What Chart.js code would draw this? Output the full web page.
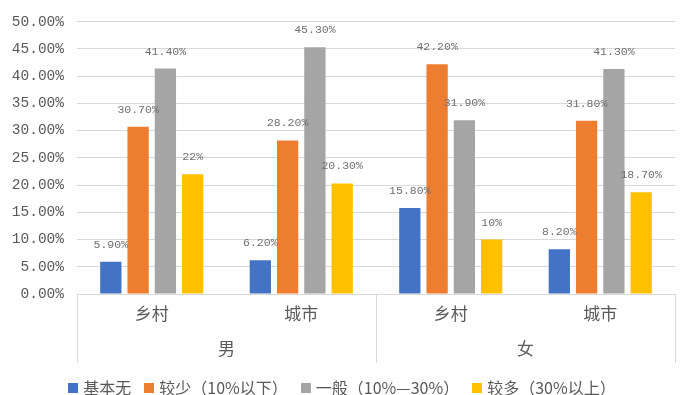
<!DOCTYPE html>
<html>
<head>
  <meta charset="utf-8">
  <title>男女 乡村/城市 对比</title>
  <script src="https://cdn.jsdelivr.net/npm/chart.js@4.4.1/dist/chart.umd.min.js"></script>
  <style>
    html, body { margin: 0; padding: 0; background: #fff; }
    .chart-box { width: 693px; height: 395px; }
  </style>
</head>
<body>
  <div class="chart-box"><canvas id="chart"></canvas></div>

  <script>
    // data
    const categories = ['乡村', '城市', '乡村', '城市'];
    const groups = ['男', '女'];
    const seriesNames = ['基本无', '较少（10%以下）', '一般（10%—30%）', '较多（30%以上）'];
    const none = [5.9, 6.2, 15.8, 8.2];
    const less = [30.7, 28.2, 42.2, 31.8];
    const normal = [41.4, 45.3, 31.9, 41.3];
    const more = [22, 20.3, 10, 18.7];
    const colors = ['#4472C4', '#ED7D31', '#A5A5A5', '#FFC000'];

    const CJK = '"Noto Sans CJK SC", "Noto Sans", sans-serif';
    const MONO = '"Liberation Mono", "DejaVu Sans Mono", monospace';

    function fmt(v) {
      return Number.isInteger(v) ? v + '%' : v.toFixed(2) + '%';
    }

    // value labels above each bar
    const valueLabels = {
      id: 'valueLabels',
      afterDatasetsDraw(chart) {
        const ctx = chart.ctx;
        ctx.save();
        ctx.font = '11.5px ' + MONO;
        ctx.fillStyle = '#6f6f6f';
        ctx.textAlign = 'center';
        ctx.textBaseline = 'middle';
        chart.data.datasets.forEach((ds, i) => {
          chart.getDatasetMeta(i).data.forEach((bar, j) => {
            ctx.fillText(fmt(ds.data[j]), bar.x, bar.y - 17);
          });
        });
        ctx.restore();
      }
    };

    // two-level category axis: box lines + 男/女 row
    const groupAxis = {
      id: 'groupAxis',
      afterDraw(chart) {
        const ctx = chart.ctx;
        const x = chart.scales.x;
        const area = chart.chartArea;
        const mid = (x.getPixelForValue(1) + x.getPixelForValue(2)) / 2;
        const top = area.bottom;
        const bottom = area.bottom + 69;
        ctx.save();
        ctx.strokeStyle = '#d9d9d9';
        ctx.lineWidth = 1;
        ctx.beginPath();
        [area.left, mid, area.right].forEach(px => {
          const p = Math.round(px) + 0.5;
          ctx.moveTo(p, top);
          ctx.lineTo(p, bottom);
        });
        ctx.stroke();
        ctx.font = '17px ' + CJK;
        ctx.fillStyle = '#595959';
        ctx.textAlign = 'center';
        ctx.textBaseline = 'middle';
        ctx.fillText(groups[0], (area.left + mid) / 2, area.bottom + 55);
        ctx.fillText(groups[1], (mid + area.right) / 2, area.bottom + 55);
        ctx.restore();
      }
    };

    // legend row at the bottom, built from the datasets
    const bottomLegend = {
      id: 'bottomLegend',
      afterDraw(chart) {
        const ctx = chart.ctx;
        const sets = chart.data.datasets;
        const box = 10, gapText = 5, gapItem = 13, y = 388;
        ctx.save();
        ctx.font = '16px ' + CJK;
        const widths = sets.map(ds => ctx.measureText(ds.label).width);
        const total = widths.reduce((a, w) => a + box + gapText + w, 0) + gapItem * (sets.length - 1);
        let cx = 342 - total / 2;
        ctx.textBaseline = 'middle';
        ctx.textAlign = 'left';
        sets.forEach((ds, i) => {
          ctx.fillStyle = ds.backgroundColor;
          ctx.fillRect(Math.round(cx), y - box / 2, box, box);
          ctx.fillStyle = '#595959';
          ctx.fillText(ds.label, cx + box + gapText, y);
          cx += box + gapText + widths[i] + gapItem;
        });
        ctx.restore();
      }
    };

    const seriesData = [none, less, normal, more];

    new Chart(document.getElementById('chart'), {
      type: 'bar',
      data: {
        labels: categories,
        datasets: seriesData.map((d, i) => ({
          label: seriesNames[i],
          data: d,
          backgroundColor: colors[i],
          borderWidth: 0,
          categoryPercentage: 0.73,
          barPercentage: 0.78
        }))
      },
      options: {
        responsive: true,
        maintainAspectRatio: false,
        animation: false,
        layout: { padding: { top: 19, right: 18, left: 0, bottom: 0 } },
        plugins: {
          tooltip: { enabled: false },
          legend: { display: false }
        },
        scales: {
          x: {
            grid: { display: false },
            border: { display: false },
            ticks: {
              color: '#595959',
              padding: 1,
              font: { size: 17, family: CJK }
            },
            afterFit(scale) { scale.height = 101; }
          },
          y: {
            min: 0,
            max: 50,
            grid: { color: '#d9d9d9', drawTicks: false },
            border: { display: false },
            ticks: {
              stepSize: 5,
              padding: 13,
              color: '#595959',
              font: { size: 14.5, family: MONO },
              callback: v => v.toFixed(2) + '%'
            },
            afterFit(scale) { scale.width = 77; }
          }
        }
      },
      plugins: [valueLabels, groupAxis, bottomLegend]
    });
  </script>
</body>
</html>
